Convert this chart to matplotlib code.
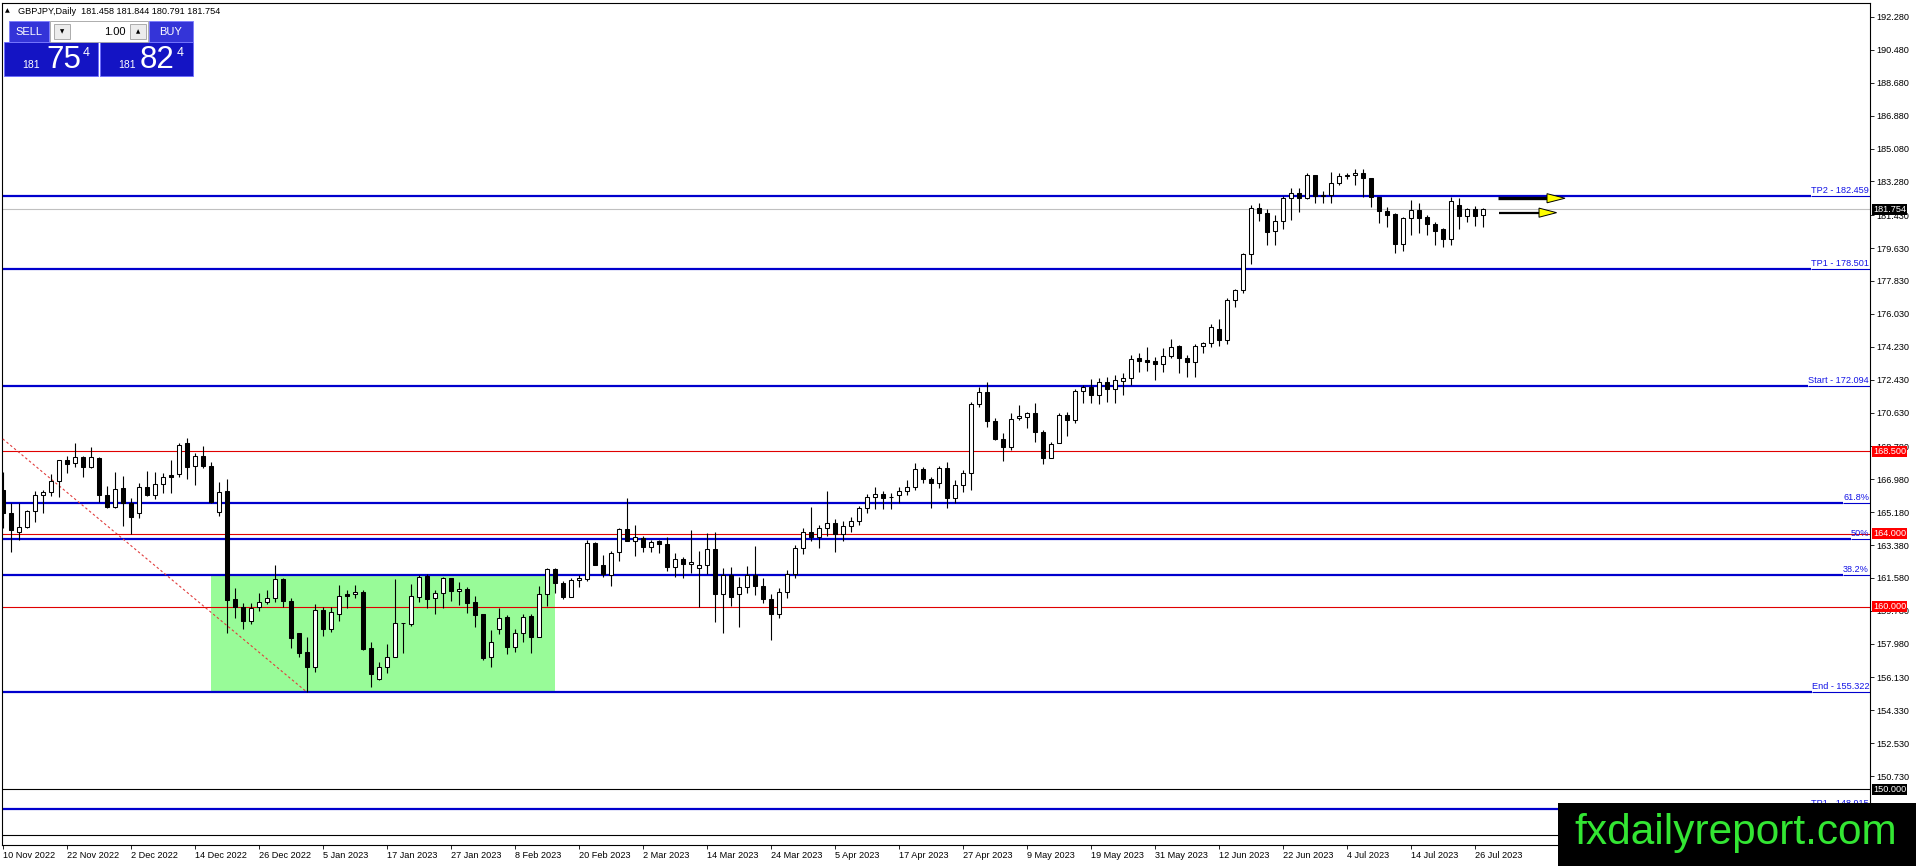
import matplotlib
matplotlib.use('Agg')
import matplotlib.pyplot as plt
import matplotlib.transforms as mtransforms
from matplotlib.patches import Rectangle, Polygon

plt.rcParams['font.family'] = ['Liberation Sans', 'DejaVu Sans']

# ---------------- data ----------------
opens = [
    166.39, 165.11, 164.07, 164.38, 165.24, 166.10, 166.28, 166.90, 168.01, 167.85,
    168.18, 167.63, 168.15, 166.10, 165.44, 166.48, 165.66, 165.11, 166.54, 166.13,
    166.72, 167.21, 167.25, 168.95, 167.72, 168.25, 167.70, 165.17, 166.34, 160.41,
    159.97, 159.24, 159.97, 160.24, 160.46, 161.50, 160.32, 158.55, 157.50, 156.72,
    159.82, 158.76, 159.59, 160.68, 160.68, 160.79, 157.73, 156.03, 156.69, 157.27,
    159.09, 159.06, 160.52, 161.68, 160.46, 160.74, 161.56, 160.84, 160.97, 160.26,
    159.60, 157.23, 158.76, 159.46, 157.81, 158.55, 159.50, 158.36, 160.68, 162.05,
    161.32, 160.55, 161.46, 161.54, 163.51, 162.30, 161.74, 163.02, 164.24, 163.62,
    163.75, 163.29, 163.60, 163.42, 162.19, 162.63, 162.32, 162.10, 162.27, 163.14,
    160.68, 161.74, 160.68, 161.10, 161.74, 161.16, 160.40, 159.60, 160.80, 161.80,
    163.20, 164.10, 163.80, 164.30, 164.60, 164.00, 164.40, 164.70, 165.39, 166.03,
    166.15, 165.99, 166.12, 166.35, 166.57, 167.52, 166.97, 166.76, 167.58, 165.93,
    166.66, 167.30, 171.08, 171.74, 170.19, 169.16, 168.76, 170.31, 170.37, 170.59,
    169.55, 168.16, 168.98, 170.50, 170.22, 171.83, 172.05, 171.59, 172.32, 171.92,
    172.38, 172.50, 173.60, 173.51, 173.45, 173.27, 173.73, 174.29, 173.60, 173.42,
    174.27, 174.42, 175.18, 174.60, 176.79, 177.34, 179.29, 181.81, 181.53, 180.57,
    181.11, 182.36, 182.63, 182.36, 183.63, 182.48, 182.54, 183.21, 183.58, 183.61,
    183.72, 183.45, 182.41, 181.66, 181.48, 179.84, 181.26, 181.72, 181.31, 180.93,
    180.66, 180.15, 181.99, 181.41, 181.77, 181.458,
]
highs = [
    167.39, 165.66, 165.66, 165.30, 166.35, 166.39, 167.27, 168.05, 168.25, 168.98,
    168.25, 168.76, 168.18, 166.61, 167.39, 167.16, 165.93, 166.79, 167.45, 167.39,
    167.34, 168.03, 168.95, 169.22, 168.40, 168.80, 167.94, 166.85, 166.97, 161.01,
    160.22, 160.22, 160.74, 160.92, 162.29, 161.56, 160.50, 158.58, 158.33, 160.13,
    160.01, 160.01, 161.19, 160.92, 161.19, 160.92, 158.05, 157.00, 157.95, 161.52,
    159.13, 161.25, 161.74, 161.78, 160.92, 161.65, 161.60, 161.36, 161.10, 160.61,
    159.62, 158.73, 159.95, 159.55, 158.76, 159.59, 159.59, 161.14, 162.14, 162.10,
    161.41, 161.56, 161.74, 163.65, 163.56, 162.83, 163.07, 164.33, 165.94, 164.47,
    163.87, 163.65, 163.65, 163.80, 162.92, 162.74, 164.20, 163.05, 164.02, 164.07,
    162.10, 162.16, 161.65, 162.23, 163.34, 161.60, 160.70, 161.00, 162.00, 163.40,
    164.30, 165.48, 164.50, 166.34, 164.80, 164.70, 164.90, 165.50, 166.15, 166.57,
    166.34, 166.21, 166.57, 166.94, 167.89, 167.67, 167.12, 167.70, 167.94, 166.94,
    167.49, 171.19, 172.05, 172.28, 170.31, 169.49, 170.62, 171.04, 170.68, 171.13,
    169.68, 169.04, 170.59, 170.68, 171.92, 172.14, 172.45, 172.50, 172.59, 172.69,
    172.78, 173.78, 173.91, 174.20, 173.69, 174.18, 174.64, 174.33, 173.78, 174.36,
    174.51, 175.46, 175.73, 176.88, 177.39, 179.34, 181.99, 182.08, 181.75, 181.44,
    182.48, 182.90, 182.90, 183.72, 183.63, 182.77, 183.81, 183.72, 183.76, 183.94,
    183.94, 183.45, 182.45, 181.90, 181.53, 181.35, 182.26, 182.12, 181.44, 181.08,
    180.71, 182.41, 182.36, 181.81, 181.94, 181.844,
]
lows = [
    164.29, 163.01, 163.65, 164.29, 164.66, 165.11, 166.06, 166.03, 167.30, 167.67,
    167.08, 167.58, 165.75, 165.40, 165.40, 164.42, 163.98, 164.84, 166.06, 165.88,
    166.21, 166.24, 167.08, 166.99, 166.66, 167.58, 165.70, 164.98, 158.54, 159.40,
    158.76, 159.06, 159.79, 160.15, 160.28, 160.01, 157.76, 157.27, 155.34, 156.45,
    158.42, 158.64, 159.24, 159.95, 160.46, 157.63, 155.59, 155.99, 156.36, 157.25,
    157.49, 158.97, 160.28, 159.91, 159.60, 159.95, 160.33, 160.10, 159.68, 158.87,
    157.09, 156.69, 158.49, 157.40, 157.54, 158.09, 157.49, 158.34, 160.06, 160.74,
    160.41, 160.52, 161.10, 161.39, 162.27, 161.61, 161.16, 162.52, 163.60, 162.80,
    163.02, 163.02, 162.92, 161.97, 161.65, 161.56, 161.87, 160.01, 161.78, 159.15,
    158.55, 160.04, 158.91, 160.74, 160.65, 160.20, 158.20, 159.40, 160.50, 161.60,
    162.90, 163.60, 163.20, 163.90, 163.00, 163.60, 164.10, 164.50, 165.11, 165.33,
    165.33, 165.33, 165.66, 166.12, 166.39, 166.79, 165.42, 166.48, 165.39, 165.66,
    166.30, 166.39, 170.92, 169.86, 169.13, 168.00, 168.58, 170.22, 169.80, 169.04,
    167.80, 168.12, 168.95, 169.35, 170.04, 171.13, 171.17, 171.10, 171.23, 171.17,
    171.59, 172.14, 172.87, 172.92, 172.41, 172.87, 173.60, 172.78, 172.59, 172.59,
    173.87, 174.20, 174.29, 174.38, 176.39, 177.19, 178.74, 181.11, 179.80, 179.80,
    180.66, 181.17, 181.63, 182.30, 182.08, 182.12, 182.12, 183.08, 183.40, 183.08,
    182.45, 181.90, 181.02, 180.80, 179.38, 179.47, 180.35, 180.48, 180.35, 179.80,
    179.67, 179.80, 180.68, 181.08, 180.84, 180.791,
]
closes = [
    165.11, 164.20, 164.38, 165.24, 166.10, 166.28, 166.87, 168.01, 167.79, 168.18,
    167.67, 168.18, 166.10, 165.44, 166.43, 165.66, 164.93, 166.54, 166.13, 166.72,
    167.12, 167.12, 168.84, 167.67, 168.25, 167.72, 165.73, 166.28, 160.37, 159.97,
    159.24, 159.91, 160.24, 160.46, 161.50, 160.33, 158.31, 157.45, 156.72, 159.82,
    158.76, 159.70, 160.61, 160.61, 160.79, 157.69, 156.30, 156.69, 157.27, 159.09,
    159.12, 160.59, 161.65, 160.44, 160.74, 161.56, 160.88, 160.95, 160.22, 159.57,
    157.21, 158.05, 159.37, 157.81, 158.55, 159.46, 158.36, 160.68, 162.05, 161.32,
    160.55, 161.46, 161.57, 163.47, 162.30, 161.78, 162.92, 164.24, 163.62, 163.80,
    163.29, 163.56, 163.42, 162.19, 162.63, 162.32, 162.45, 162.27, 163.14, 160.68,
    161.74, 160.52, 161.10, 161.74, 161.16, 160.40, 159.60, 160.80, 161.80, 163.20,
    164.10, 163.80, 164.30, 164.60, 164.00, 164.40, 164.70, 165.39, 166.03, 166.15,
    165.93, 166.01, 166.35, 166.57, 167.52, 166.97, 166.79, 167.58, 165.93, 166.66,
    167.30, 171.08, 171.74, 170.19, 169.16, 168.76, 170.26, 170.44, 170.59, 169.55,
    168.16, 168.89, 170.50, 170.22, 171.83, 172.05, 171.59, 172.32, 171.92, 172.41,
    172.50, 173.54, 173.47, 173.42, 173.27, 173.73, 174.20, 173.60, 173.42, 174.27,
    174.42, 175.29, 174.60, 176.79, 177.34, 179.29, 181.84, 181.53, 180.53, 181.11,
    182.36, 182.63, 182.36, 183.63, 182.48, 182.54, 183.18, 183.58, 183.63, 183.72,
    183.45, 182.41, 181.68, 181.44, 179.84, 181.26, 181.72, 181.26, 180.93, 180.59,
    180.15, 182.21, 181.41, 181.75, 181.41, 181.754,
]

tick_labels = ['10 Nov 2022', '22 Nov 2022', '2 Dec 2022', '14 Dec 2022', '26 Dec 2022',
               '5 Jan 2023', '17 Jan 2023', '27 Jan 2023', '8 Feb 2023', '20 Feb 2023',
               '2 Mar 2023', '14 Mar 2023', '24 Mar 2023', '5 Apr 2023', '17 Apr 2023',
               '27 Apr 2023', '9 May 2023', '19 May 2023', '31 May 2023', '12 Jun 2023',
               '22 Jun 2023', '4 Jul 2023', '14 Jul 2023', '26 Jul 2023']
bars_per_label = 8

price_ticks = [192.280, 190.480, 188.680, 186.880, 185.080, 183.280, 181.430, 179.630,
               177.830, 176.030, 174.230, 172.430, 170.630, 168.780, 166.980, 165.180,
               163.380, 161.580, 159.780, 157.980, 156.130, 154.330, 152.530, 150.730,
               148.930]

fib_levels = [182.459, 178.501, 172.094, 165.687, 163.708, 161.729, 155.322, 148.915]
fib_labels = ['TP2 - 182.459', 'TP1 - 178.501', 'Start - 172.094', '61.8%', '50%',
              '38.2%', 'End - 155.322', 'TP1 - 148.915']
red_levels = [168.500, 164.000, 160.000]
black_levels = [150.000]
plain_black_levels = [147.51]
bid_price = 181.754

fib_start = (-8, 172.094)      # (bar index, price)
fib_end = (38, 155.322)
box_bars = (26, 69)
box_prices = (155.322, 161.80)
# (line start bar, triangle base bar, triangle tip bar, price, line width)
arrows = [(186.9, 193.0, 195.25, 182.36, 2.4), (187.0, 192.0, 194.2, 181.57, 1.6)]

header = 'GBPJPY,Daily  181.458 181.844 180.791 181.754'

# ---------------- layout ----------------
W, H = 1916, 866
DPI = 100
fig = plt.figure(figsize=(W / DPI, H / DPI), dpi=DPI)
fig.patch.set_facecolor('white')
ax = fig.add_axes([2 / W, 1 - 845 / H, (1870 - 2) / W, (845 - 3) / H])
XL = (-0.125, 233.375)
YL = (146.96, 193.046)
ax.set_xlim(*XL)
ax.set_ylim(*YL)
ax.set_facecolor('white')
for s in ax.spines.values():
    s.set_color('black')
    s.set_linewidth(0.8)

BLUE = '#0000CD'
LBLUE = '#1414e6'
FS = 6.6

# green box
ax.add_patch(Rectangle((box_bars[0], box_prices[0]), box_bars[1] - box_bars[0],
                       box_prices[1] - box_prices[0], facecolor='#98FB98',
                       edgecolor='none', zorder=1))

# red / black / grey lines
for lv in red_levels:
    ax.axhline(lv, color='#e00000', lw=0.8, zorder=2)
for lv in black_levels + plain_black_levels:
    ax.axhline(lv, color='black', lw=0.8, zorder=2)
ax.axhline(bid_price, color='#c0c0c0', lw=0.8, zorder=2)

# fib diagonal
ax.plot([fib_start[0], fib_end[0]], [fib_start[1], fib_end[1]], ls=(0, (2.2, 2.2)),
        color='#e03c3c', lw=0.8, zorder=3)

# fib labels
ytrans = mtransforms.blended_transform_factory(ax.transAxes, ax.transData)
lab_trans = mtransforms.offset_copy(ytrans, fig=fig, x=-1, y=1, units='dots')
fib_texts = []
for lv, lab in zip(fib_levels, fib_labels):
    t = ax.text(1.0, lv, lab, transform=lab_trans, ha='right', va='bottom',
                fontsize=FS, color=LBLUE, zorder=6, clip_on=True)
    fib_texts.append(t)

# candles
xs = list(range(len(opens)))
ax.vlines(xs, lows, highs, color='black', lw=0.8, zorder=4)
bottoms = [min(o, c) for o, c in zip(opens, closes)]
heights = [abs(c - o) for o, c in zip(opens, closes)]
fills = ['white' if c >= o else 'black' for o, c in zip(opens, closes)]
ax.bar(xs, heights, bottom=bottoms, width=0.56, color=fills, edgecolor='black',
       linewidth=0.75, zorder=5)

# arrows
for x0, xb, xt, y, lw in arrows:
    ax.plot([x0, xb + 0.3], [y, y], color='black', lw=lw, zorder=6, solid_capstyle='butt')
    ax.add_patch(Polygon([(xb, y + 0.25), (xb, y - 0.25), (xt, y)], closed=True,
                         facecolor='#ffff00', edgecolor='black', lw=0.7, zorder=7))

# axes ticks
ax.yaxis.tick_right()
ax.set_yticks(price_ticks)
ax.set_yticklabels(['%.3f' % v for v in price_ticks])
ax.tick_params(axis='y', right=True, left=False, labelright=True, labelleft=False,
               length=3, width=0.6, pad=1.5, labelsize=FS, colors='black')
ax.set_xticks(list(range(0, bars_per_label * len(tick_labels), bars_per_label)))
ax.set_xticklabels(tick_labels)
ax.tick_params(axis='x', length=3, width=0.6, pad=1, labelsize=FS)
for lab in ax.get_xticklabels():
    lab.set_horizontalalignment('left')
ax.set_xlim(*XL)
ax.set_ylim(*YL)

# price boxes on the axis
box_trans = mtransforms.offset_copy(ytrans, fig=fig, x=3, y=0, units='dots')
for lv in red_levels:
    ax.text(1.0, lv, '%.3f' % lv, transform=box_trans, ha='left', va='center',
            fontsize=FS, color='white', clip_on=False, zorder=8,
            bbox=dict(boxstyle='square,pad=0.12', fc='#ff0000', ec='none'))
for lv in black_levels + [bid_price]:
    ax.text(1.0, lv, '%.3f' % lv, transform=box_trans, ha='left', va='center',
            fontsize=FS, color='white', clip_on=False, zorder=8,
            bbox=dict(boxstyle='square,pad=0.12', fc='black', ec='none'))

# fib lines: thick up to label, thin under label
fig.canvas.draw()
r = fig.canvas.get_renderer()
inv = ax.transData.inverted()
for lv, t in zip(fib_levels, fib_texts):
    bb = t.get_window_extent(r)
    xd = inv.transform((bb.x0, bb.y0))[0]
    ax.hlines(lv, XL[0], xd, color=BLUE, lw=1.6, zorder=2.5)
    ax.hlines(lv, xd, XL[1], color=BLUE, lw=0.8, zorder=2.5)

# ---------------- UI overlay ----------------
ui = fig.add_axes([0, 0, 1, 1], zorder=10)
ui.set_xlim(0, W)
ui.set_ylim(H, 0)
ui.axis('off')
ui.patch.set_alpha(0)

ui.text(7, 11, '\u25B2', fontsize=4.5, family='DejaVu Sans', ha='center', va='center')
ui.text(18, 11, header, fontsize=FS, ha='left', va='center', color='black')

BTN = '#3434d8'
PAN = '#1414c4'
ui.add_patch(Rectangle((4, 42), 94, 34, fc=PAN, ec='#6a6aff', lw=0.6))
ui.add_patch(Rectangle((100, 42), 93, 34, fc=PAN, ec='#6a6aff', lw=0.6))
ui.add_patch(Rectangle((9, 21), 40, 21, fc=BTN, ec='#7a7aff', lw=0.6))
ui.add_patch(Rectangle((149, 21), 44, 21, fc=BTN, ec='#7a7aff', lw=0.6))
ui.add_patch(Rectangle((50, 21), 98, 21, fc='white', ec='#a0a0a0', lw=0.6))
ui.add_patch(Rectangle((54, 24), 16, 15, fc='#ececec', ec='#a0a0a0', lw=0.6))
ui.add_patch(Rectangle((130, 24), 16, 15, fc='#ececec', ec='#a0a0a0', lw=0.6))
ui.text(62, 31.5, '\u25BC', fontsize=4, family='DejaVu Sans', ha='center', va='center')
ui.text(138, 31.5, '\u25B2', fontsize=4, family='DejaVu Sans', ha='center', va='center')
ui.text(126, 32, '1.00', fontsize=8, ha='right', va='center', color='black')
ui.text(29, 32, 'SELL', fontsize=8, ha='center', va='center', color='white')
ui.text(171, 32, 'BUY', fontsize=8, ha='center', va='center', color='white')

ui.text(22, 68, '181', fontsize=7.5, ha='left', va='baseline', color='white')
ui.text(46, 68, '75', fontsize=22.5, ha='left', va='baseline', color='white')
ui.text(83, 47, '4', fontsize=9, ha='left', va='top', color='white')
ui.text(118, 68, '181', fontsize=7.5, ha='left', va='baseline', color='white')
ui.text(140, 68, '82', fontsize=22.5, ha='left', va='baseline', color='white')
ui.text(177, 47, '4', fontsize=9, ha='left', va='top', color='white')

# watermark
ui.add_patch(Rectangle((1558, 803), W - 1558, H - 803, fc='black', ec='none'))
ui.text(1736, 844, 'fxdailyreport.com', fontsize=30.5, ha='center', va='baseline',
        color='#33e633')

fig.savefig('out.png', dpi=DPI)
